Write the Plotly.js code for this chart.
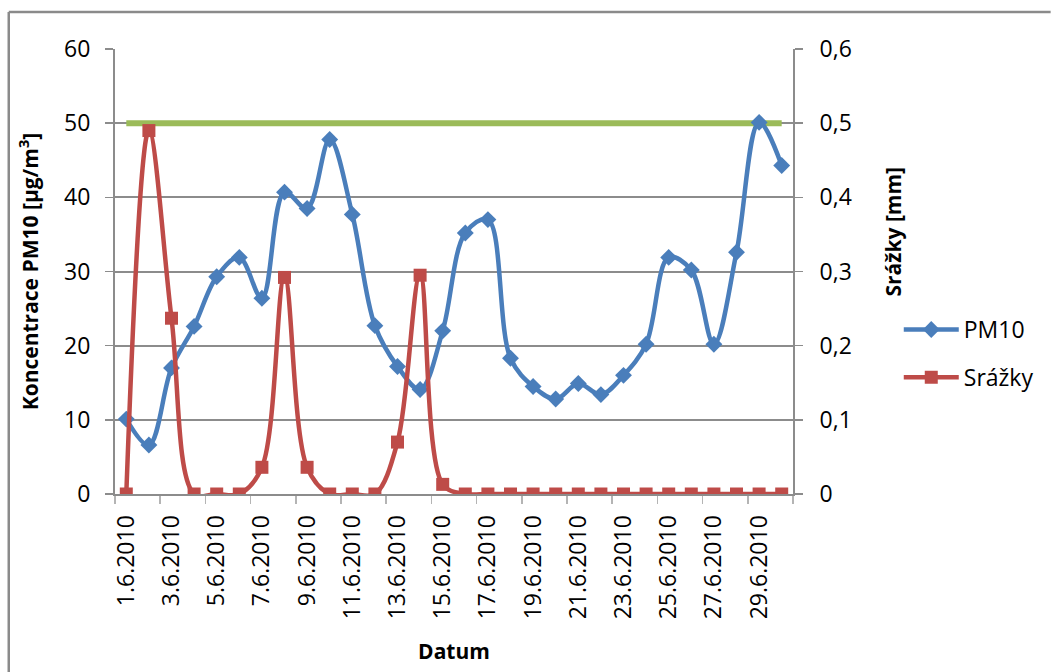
<!DOCTYPE html>
<html>
<head>
<meta charset="utf-8">
<script src="https://cdn.plot.ly/plotly-3.0.1.min.js"></script>
<style>
  html, body { margin: 0; padding: 0; background: #ffffff; }
  #chart { width: 1051px; height: 672px; }
</style>
</head>
<body>
<div id="chart"></div>
<script>
// Daily PM10 concentration and precipitation, June 2010
const dates = [
  "1.6.2010", "2.6.2010", "3.6.2010", "4.6.2010", "5.6.2010", "6.6.2010",
  "7.6.2010", "8.6.2010", "9.6.2010", "10.6.2010", "11.6.2010", "12.6.2010",
  "13.6.2010", "14.6.2010", "15.6.2010", "16.6.2010", "17.6.2010", "18.6.2010",
  "19.6.2010", "20.6.2010", "21.6.2010", "22.6.2010", "23.6.2010", "24.6.2010",
  "25.6.2010", "26.6.2010", "27.6.2010", "28.6.2010", "29.6.2010", "30.6.2010"
];

// PM10 [µg/m³]
const pm10 = [
  10.1, 6.6, 17.0, 22.6, 29.3, 31.9, 26.4, 40.7, 38.5, 47.8,
  37.7, 22.7, 17.2, 14.1, 22.0, 35.2, 37.0, 18.3, 14.5, 12.8,
  14.9, 13.4, 16.0, 20.2, 31.9, 30.2, 20.2, 32.6, 50.1, 44.3
];

// Precipitation [mm]
const srazky = [
  0, 0.49, 0.237, 0, 0, 0, 0.036, 0.292, 0.036, 0,
  0, 0, 0.07, 0.295, 0.013, 0, 0, 0, 0, 0,
  0, 0, 0, 0, 0, 0, 0, 0, 0, 0
];

// Daily limit for PM10 [µg/m³]
const limit = [
  50, 50, 50, 50, 50, 50, 50, 50, 50, 50,
  50, 50, 50, 50, 50, 50, 50, 50, 50, 50,
  50, 50, 50, 50, 50, 50, 50, 50, 50, 50
];

const FONT = "Open Sans, Lato, sans-serif";
const GRID = "#8c8c8c";
const TICK_SIZE = 23;
const TITLE_SIZE = 21;

const traces = [
  {
    x: dates, y: limit, name: "Limit",
    type: "scatter", mode: "lines",
    line: { color: "#9BBB59", width: 6 },
    showlegend: false, hoverinfo: "y"
  },
  {
    x: dates, y: pm10, name: "PM10",
    type: "scatter", mode: "lines+markers",
    line: { color: "#4A7EBB", width: 4.5, shape: "spline", smoothing: 1 },
    marker: { symbol: "diamond", size: 13, color: "#4A7EBB" },
    legendgroup: "a"
  },
  {
    x: dates, y: srazky, name: "Srážky", yaxis: "y2",
    type: "scatter", mode: "lines+markers",
    line: { color: "#BE4B48", width: 4.5, shape: "spline", smoothing: 1 },
    marker: { symbol: "square", size: 13, color: "#BE4B48" },
    legendgroup: "b"
  }
];

const layout = {
  width: 1051, height: 672,
  margin: { l: 115, r: 253, t: 49, b: 178 },
  paper_bgcolor: "#ffffff", plot_bgcolor: "#ffffff",
  separators: ", ",
  font: { family: FONT, size: TICK_SIZE, color: "#000000" },
  showlegend: true,
  legend: {
    x: 1.156, xanchor: "left", y: 0.418, yanchor: "top",
    font: { family: FONT, size: TICK_SIZE, color: "#000000" },
    itemwidth: 55, traceorder: "grouped", tracegroupgap: 15,
    bgcolor: "rgba(0,0,0,0)"
  },
  xaxis: {
    type: "category",
    range: [-0.5, 29.5],
    tickson: "boundaries", dtick: 2,
    tickangle: -90,
    ticks: "outside", ticklen: 8, tickwidth: 1.5, tickcolor: "#b4b4b4",
    showgrid: false, zeroline: false,
    showline: true, linecolor: GRID, linewidth: 2,
    tickfont: { family: FONT, size: TICK_SIZE },
    ticklabelstandoff: 10,
    title: { text: "<b>Datum</b>", font: { family: FONT, size: TITLE_SIZE }, standoff: 26 }
  },
  yaxis: {
    range: [0, 60], dtick: 10,
    ticks: "outside", ticklen: 8, tickwidth: 1.5, tickcolor: GRID,
    showgrid: true, gridcolor: GRID, gridwidth: 2,
    zeroline: false,
    showline: true, linecolor: GRID, linewidth: 2,
    tickfont: { family: FONT, size: TICK_SIZE },
    ticklabelstandoff: 10,
    title: { text: "<b>Koncentrace PM10 [µg/m<sup>3</sup>]</b>", font: { family: FONT, size: TITLE_SIZE }, standoff: 20 }
  },
  yaxis2: {
    overlaying: "y", side: "right",
    range: [0, 0.6], dtick: 0.1, tickformat: ".1~f",
    ticks: "outside", ticklen: 8, tickwidth: 1.5, tickcolor: GRID,
    showgrid: false, zeroline: false,
    showline: true, linecolor: GRID, linewidth: 2,
    tickfont: { family: FONT, size: TICK_SIZE },
    ticklabelstandoff: 12
  },
  annotations: [
    {
      text: "<b>Srážky [mm]</b>", textangle: -90,
      xref: "paper", yref: "paper", x: 1.147, y: 0.589,
      xanchor: "center", yanchor: "middle", showarrow: false,
      font: { family: FONT, size: TITLE_SIZE, color: "#000000" }
    }
  ],
  shapes: [
    // chart frame (top and left edges)
    { type: "line", xref: "paper", yref: "paper", x0: -0.1567, x1: 1.38, y0: 1.0831, y1: 1.0831,
      line: { color: "#8a8a8a", width: 2.5 } },
    { type: "line", xref: "paper", yref: "paper", x0: -0.1567, x1: -0.1567, y0: 1.0831, y1: -0.42,
      line: { color: "#8a8a8a", width: 2.5 } }
  ]
};

Plotly.newPlot("chart", traces, layout, { displayModeBar: false, staticPlot: true });
</script>
</body>
</html>
